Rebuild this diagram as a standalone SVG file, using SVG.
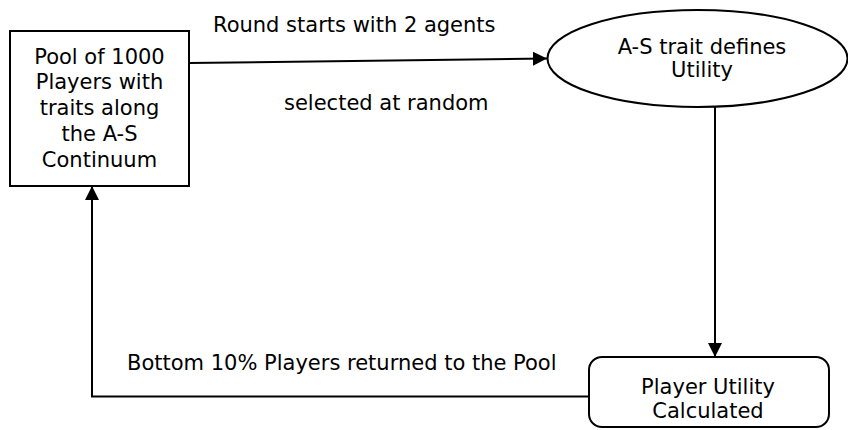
<svg xmlns="http://www.w3.org/2000/svg" width="848" height="430" viewBox="0 0 848 430">
<style>
.s{fill:#fff;stroke:#000;stroke-width:2}
.c{fill:none;stroke:#000;stroke-width:2}
text{font-family:"DejaVu Sans",Verdana,sans-serif;font-size:21px;fill:#000}
.m{text-anchor:middle}
</style>
<defs>
<marker id="a" viewBox="0 0 10 10" refX="10" refY="5" markerWidth="7.2" markerHeight="7.2" markerUnits="strokeWidth" orient="auto"><path d="M0,0L10,5L0,10z" fill="#000"/></marker>
</defs>
<rect width="848" height="430" fill="#fff"/>
<g id="connectors">
<path class="c" d="M189,63L547,58.5" marker-end="url(#a)"/>
<path class="c" d="M715,107L715,357" marker-end="url(#a)"/>
<path class="c" d="M589,396.5L92,396.5L92,186" marker-end="url(#a)"/>
<text x="213" y="32">Round starts with 2 agents</text>
<text x="284" y="110">selected at random</text>
<text x="127" y="370">Bottom 10% Players returned to the Pool</text>
</g>
<g id="pool">
<rect class="s" x="10" y="31" width="179" height="155"/>
<text class="m" x="99.5" y="63.5">Pool of 1000</text>
<text class="m" x="99.5" y="89.3">Players with</text>
<text class="m" x="99.5" y="115">traits along</text>
<text class="m" x="99.5" y="140.8">the A-S</text>
<text class="m" x="99.5" y="166.5">Continuum</text>
</g>
<g id="trait">
<ellipse class="s" cx="697.5" cy="58.5" rx="150" ry="48.5"/>
<text class="m" x="702" y="53.5">A-S trait defines</text>
<text class="m" x="702" y="77">Utility</text>
</g>
<g id="utility">
<rect class="s" x="589" y="357" width="240" height="70" rx="13"/>
<text class="m" x="708" y="394">Player Utility</text>
<text class="m" x="708" y="418">Calculated</text>
</g>
</svg>
